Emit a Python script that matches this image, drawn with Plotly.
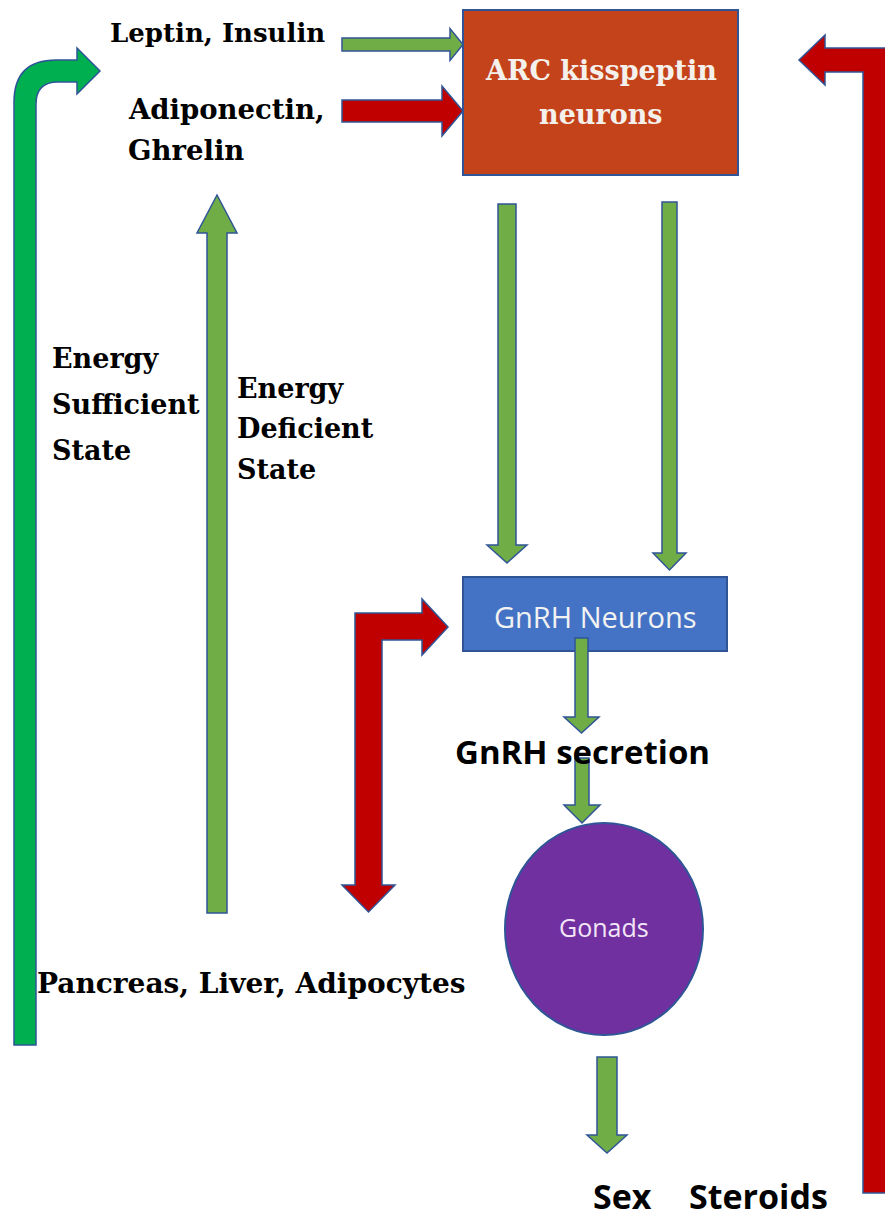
import plotly.graph_objects as go

W, H = 885, 1220

# ---- diagram content (labels) ----
left_labels = ["Leptin, Insulin", "Adiponectin,", "Ghrelin"]
sufficient_lines = ["Energy", "Sufficient", "State"]
deficient_lines = ["Energy", "Deficient", "State"]
source_label = "Pancreas, Liver, Adipocytes"
arc_lines = ["ARC kisspeptin", "neurons"]
gnrh_label = "GnRH Neurons"
secretion_label = "GnRH secretion"
gonads_label = "Gonads"
output_words = ["Sex", "Steroids"]

# ---- colours ----
C_OUT = "#2F5597"
C_GREEN = "#70AD47"
C_BGREEN = "#00B050"
C_RED = "#C00000"
C_ARC = "#C4431A"
C_GNRH = "#4472C4"
C_GON = "#7030A0"

# straight arrows: (x0, y0, x1(tip), y1(tip), shaft width, head width, head length, colour)
straight_arrows = [
    (342, 44.5, 463, 44.5, 13, 32, 13, C_GREEN),     # Leptin -> ARC
    (342, 111, 463, 111, 22, 50, 21, C_RED),         # Adiponectin -> ARC
    (217, 913, 217, 195, 20, 40, 38, C_GREEN),       # energy deficient (up)
    (507, 204, 507, 563, 18, 40, 18, C_GREEN),       # ARC -> GnRH (left)
    (669.5, 202, 669.5, 570, 15, 33, 17, C_GREEN),   # ARC -> GnRH (right)
    (581.5, 638, 581.5, 733, 13, 35, 16, C_GREEN),   # GnRH -> secretion
    (582, 758, 582, 823, 14, 36, 18, C_GREEN),       # secretion -> gonads
    (607, 1057, 607, 1153, 20, 40, 18, C_GREEN),     # gonads -> sex steroids
]


def arrow_path(x0, y0, x1, y1, w, hw, hl):
    import math
    dx, dy = x1 - x0, y1 - y0
    L = math.hypot(dx, dy)
    ux, uy = dx / L, dy / L
    px, py = -uy, ux
    bx, by = x1 - ux * hl, y1 - uy * hl
    pts = [
        (x0 + px * w / 2, y0 + py * w / 2),
        (bx + px * w / 2, by + py * w / 2),
        (bx + px * hw / 2, by + py * hw / 2),
        (x1, y1),
        (bx - px * hw / 2, by - py * hw / 2),
        (bx - px * w / 2, by - py * w / 2),
        (x0 - px * w / 2, y0 - py * w / 2),
    ]
    return "M " + " L ".join(f"{x:.1f},{y:.1f}" for x, y in pts) + " Z"


shapes = []

# boxes / circle
shapes.append(dict(type="rect", x0=463, x1=738, y0=10, y1=175, fillcolor=C_ARC,
                   line=dict(color=C_OUT, width=2), layer="below"))
shapes.append(dict(type="rect", x0=463, x1=727, y0=577, y1=651, fillcolor=C_GNRH,
                   line=dict(color=C_OUT, width=2), layer="below"))
shapes.append(dict(type="circle", x0=505, x1=703, y0=823, y1=1035, fillcolor=C_GON,
                   line=dict(color=C_OUT, width=2), layer="below"))

# bent arrows
left_bent = ("M 14,1045 L 14,102 Q 14,60 56,60 L 77,60 L 77,48 L 100,71 L 77,94 L 77,82 "
             "L 58,82 Q 36,82 36,104 L 36,1045 Z")
shapes.append(dict(type="path", path=left_bent, fillcolor=C_BGREEN,
                   line=dict(color=C_OUT, width=1.5)))
right_bent = ("M 863,1193 L 863,72 L 825,72 L 825,85 L 799,60 L 825,35 L 825,48 "
              "L 895,48 L 895,1193 Z")
shapes.append(dict(type="path", path=right_bent, fillcolor=C_RED,
                   line=dict(color=C_OUT, width=1.5)))
mid_bent = ("M 355,885 L 355,613 L 422,613 L 422,599 L 448,627 L 422,655 L 422,640 "
            "L 382,640 L 382,885 L 395,885 L 368.5,912 L 342,885 Z")
shapes.append(dict(type="path", path=mid_bent, fillcolor=C_RED,
                   line=dict(color=C_OUT, width=1.5)))

for (x0, y0, x1, y1, w, hw, hl, col) in straight_arrows:
    shapes.append(dict(type="path", path=arrow_path(x0, y0, x1, y1, w, hw, hl),
                       fillcolor=col, line=dict(color=C_OUT, width=1.5)))

SERIF = "DejaVu Serif"
SANS = "Open Sans"


def txt(x, y, s, size, family=SERIF, color="#000000", anchor="left", weight="bold"):
    return dict(x=x, y=y, text=s, showarrow=False, xanchor=anchor, yanchor="middle",
                font=dict(family=family, size=size, color=color, weight=weight))


ann = []
ann.append(txt(108, 33, left_labels[0], 26))
ann.append(txt(126, 109, left_labels[1], 27.5))
ann.append(txt(126, 150, left_labels[2], 27.5))
for t, yy in zip(sufficient_lines, [358, 404, 450]):
    ann.append(txt(50, yy, t, 27))
for t, yy in zip(deficient_lines, [388, 428, 469]):
    ann.append(txt(235, yy, t, 27))
ann.append(txt(35, 983, source_label, 28))
ann.append(txt(601, 70, arc_lines[0], 27, color="#F4F0EC", anchor="center"))
ann.append(txt(601, 114, arc_lines[1], 27, color="#F4F0EC", anchor="center"))
ann.append(txt(595, 616, gnrh_label, 29, family=SANS, color="#F2F2F2", anchor="center", weight="normal"))
ann.append(txt(453, 751, secretion_label, 33, family=SANS))
ann.append(txt(604, 927, gonads_label, 25, family=SANS, color="#F3E6F7", anchor="center", weight="normal"))
ann.append(txt(591, 1196, output_words[0], 34, family=SANS))
ann.append(txt(687, 1196, output_words[1], 34, family=SANS))

fig = go.Figure()
fig.update_layout(
    width=W, height=H,
    margin=dict(l=0, r=0, t=0, b=0),
    paper_bgcolor="white", plot_bgcolor="white",
    xaxis=dict(range=[0, W], visible=False, fixedrange=True),
    yaxis=dict(range=[H, 0], visible=False, fixedrange=True),
    shapes=shapes, annotations=ann, showlegend=False,
)
fig.write_html("out.html", config={"displayModeBar": False},
               post_script="document.body.style.margin='0px';")
